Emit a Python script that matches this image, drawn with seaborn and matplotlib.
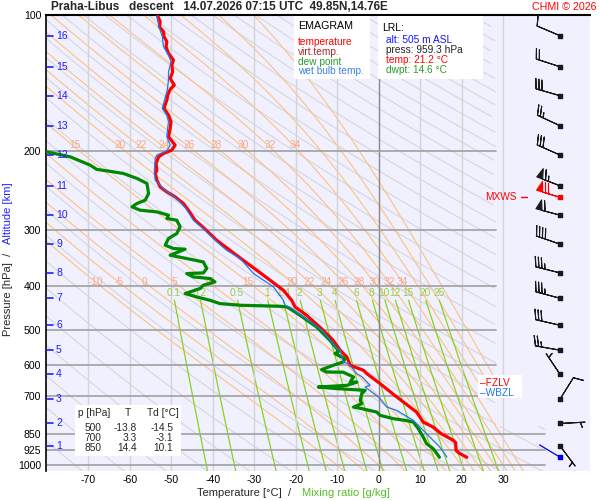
import numpy as np
import pandas as pd
import seaborn as sns
import matplotlib.pyplot as plt
import matplotlib.transforms as mtransforms
from matplotlib.patches import Rectangle

# ---- sounding (pressure hPa / temperature degC) ----
t_pres = [100.5, 103.5, 106.2, 108.9, 111.7, 114.6, 117.6, 121.7, 125.9, 129.1,
          133.7, 138.3, 143.1, 146.3, 150.6, 154.5, 161.2, 166.8, 172.6, 178.5,
          186.4, 194.5, 199.5, 203.0, 206.5, 213.6, 221.0, 224.8, 232.6, 240.8,
          247.0, 253.4, 262.1, 271.3, 285.5, 296.4, 316.2, 332.9, 350.4, 368.8,
          388.1, 408.5, 429.9, 444.9, 464.2, 501.2, 527.6, 555.3, 574.6, 599.5,
          615.1, 625.6, 658.2, 698.8, 761.4, 801.3, 822.1, 850.0, 880.0, 890.0,
          926.0, 940.0, 959.3]
t_temp = [-53.3, -52.7, -52.9, -51.9, -51.8, -51.1, -51.3, -50.7, -49.5, -49.9,
          -49.7, -50.3, -49.3, -50.3, -50.9, -51.1, -51.8, -50.7, -50.1, -50.3,
          -50.7, -49.1, -49.9, -51.9, -53.1, -53.7, -53.5, -53.9, -53.5, -52.7,
          -51.1, -49.1, -47.1, -45.9, -44.3, -42.3, -39.1, -35.9, -32.7, -29.4,
          -26.2, -23.0, -21.0, -20.2, -17.4, -13.4, -11.0, -9.3, -7.7, -6.9,
          -3.7, -2.9, 0.3, 3.8, 9.1, 10.7, 13.1, 15.0, 18.0, 18.5,
          18.6, 19.4, 21.2]

td_pres = [201.3, 206.5, 215.4, 220.2, 221.8, 224.8, 230.6, 236.6, 249.0, 257.7,
           262.1, 266.7, 271.3, 273.6, 278.3, 283.0, 285.5, 295.4, 305.6, 313.5,
           324.4, 330.0, 331.1, 341.5, 347.3, 353.4, 365.5, 373.8, 375.0, 381.6,
           384.7, 391.4, 398.1, 404.9, 415.4, 422.7, 429.9, 437.3, 441.0, 443.3,
           444.9, 447.9, 464.2, 492.8, 527.6, 550.6, 560.1, 564.8, 579.4, 589.4,
           599.5, 612.8, 620.4, 621.0, 636.5, 653.0, 653.5, 664.1, 669.9, 675.4,
           681.3, 692.9, 717.1, 729.3, 742.0, 748.2, 761.4, 774.3, 787.5, 794.3,
           801.3, 828.7, 865.1, 894.7, 918.0, 941.8, 959.3]
td_temp = [-80.0, -74.4, -69.6, -68.0, -65.6, -61.6, -58.3, -55.9, -55.5, -56.3,
           -58.3, -59.5, -57.5, -53.5, -50.7, -51.1, -48.7, -47.9, -48.7, -50.7,
           -51.5, -49.5, -46.7, -50.3, -46.3, -42.3, -41.5, -42.3, -46.3, -44.7,
           -40.7, -39.5, -42.3, -43.1, -46.7, -43.9, -40.7, -38.3, -33.4, -23.8,
           -22.2, -21.6, -19.0, -15.0, -11.8, -10.1, -9.8, -10.6, -8.1, -8.6,
           -11.0, -13.8, -12.6, -8.6, -6.1, -6.9, -5.3, -7.7, -14.6, -10.1,
           -3.3, -4.1, -4.5, -4.1, -6.1, -4.1, -0.5, 0.3, 3.5, 6.3,
           8.3, 9.5, 10.7, 11.5, 13.1, 14.0, 14.6]

tw_pres = [100.9, 106.2, 111.7, 117.6, 122.7, 127.0, 133.7, 139.5, 146.8, 161.2,
           166.8, 172.6, 178.5, 186.4, 194.5, 200.3, 204.6, 208.0, 221.0, 232.6,
           245.0, 257.7, 268.9, 285.5, 298.0, 318.5, 332.9, 347.3, 375.0, 401.5,
           429.9, 440.9, 446.6, 501.2, 550.6, 555.3, 589.4, 594.3, 625.8, 635.4,
           664.1, 669.9, 705.0, 742.0, 754.8, 794.3, 822.1, 865.1, 910.6, 958.5]
tw_temp = [-53.5, -53.0, -52.2, -51.9, -50.7, -50.1, -50.7, -50.7, -51.0, -52.2,
           -51.1, -50.7, -50.9, -51.1, -50.3, -51.1, -53.5, -53.9, -54.1, -53.9,
           -51.5, -48.3, -46.5, -44.7, -42.3, -39.1, -36.7, -33.4, -30.2, -25.4,
           -23.0, -22.6, -21.2, -13.7, -10.1, -9.3, -8.6, -7.3, -5.3, -4.1,
           -2.1, -3.3, -0.1, 1.9, 4.3, 8.3, 9.9, 12.3, 14.7, 16.4]

# ---- wind (km levels 16..1) ----
alt_km = [16, 15, 14, 13, 12, 11, 10, 9, 8, 7, 6, 5, 4, 3, 2, 1]
alt_pres = [111.2, 130.3, 151.1, 176.2, 204.7, 239.5, 278.3, 322.7, 373.8, 425.6,
            488.6, 555.0, 628.0, 712.0, 807.0, 906.0]
wind_dir = [293, 288, 286, 295, 294, 291, 285, 289, 284, 285, 283, 280, 326, 32, 87, 143]
wind_spd = [10, 20, 30, 25, 30, 65, 60, 40, 35, 35, 30, 25, 5, 10, 5, 5]
maxw_pres, maxw_dir, maxw_spd = 253.8, 287, 70
sfc_pres, sfc_dir = 959.3, 301

fzlv_pres, wbzl_pres = 657, 692

table_p = [500, 700, 850]
table_t = [-13.8, 3.3, 14.4]
table_td = [-14.5, -3.1, 10.1]

p_ticks = [100, 200, 300, 400, 500, 600, 700, 850, 925, 1000]
t_ticks = [-70, -60, -50, -40, -30, -20, -10, 0, 10, 20, 30]
theta_w = [-10, -5, 0, 5, 10, 15, 20, 22, 24, 26, 28, 30, 32, 34, 36, 38, 40]
theta_w_upper_only = [36, 38, 40]
theta_w_lab400 = [-10, -5, 0, 5, 10, 15, 20, 22, 24, 26, 28, 30, 32, 34]
theta_w_lab200 = [15, 20, 22, 24, 26, 28, 30, 32, 34]
mix_ratio = [0.1, 0.2, 0.5, 1, 1.4, 2, 3, 4, 6, 8, 10, 12, 15, 20, 25]
mix_lab = ['0.1', '0.2', '0.5', '1', '1.4', '2', '3', '4', '6', '8', '10', '12', '15', '20', '25']


def pseudo_adiabats(tw_c, pres):
    Rd, cp, Lv, eps = 287.04, 1005.7, 2.501e6, 0.622

    def slope(T, p):
        es = 6.112 * np.exp(17.67 * (T - 273.15) / (T - 29.65))
        rs = eps * es / (p - es)
        return (Rd * T + Lv * rs) / p / (cp + Lv * Lv * rs * eps / (Rd * T * T))

    out = np.zeros((len(pres), len(tw_c)))
    i0 = int(np.argmin(np.abs(pres - 1000)))
    out[i0] = np.array(tw_c, float) + 273.15
    for direction in (-1, 1):
        T = np.array(tw_c, float) + 273.15
        idx = i0
        while 0 <= idx + direction < len(pres):
            p0, p1 = pres[idx], pres[idx + direction]
            h = p1 - p0
            k1 = slope(T, p0)
            k2 = slope(T + h * k1 / 2, p0 + h / 2)
            k3 = slope(T + h * k2 / 2, p0 + h / 2)
            k4 = slope(T + h * k3, p1)
            T = T + h * (k1 + 2 * k2 + 2 * k3 + k4) / 6
            idx += direction
            out[idx] = T
    return out - 273.15


def clip_right(p, t):
    t = np.array(t, float)
    lim = np.where(p < 820, 28.2, 40.0)
    t[t > lim] = np.nan
    return t


sns.set_theme(style='white')
plt.rcParams['font.family'] = ['Liberation Sans', 'DejaVu Sans']

fig = plt.figure(figsize=(6, 5), dpi=100)
W, H = 600, 500


def fx(px):
    return px / W


def fy(py):
    return 1 - py / H


ax = fig.add_axes([fx(45.7), fy(470.8), (590 - 45.7) / W, (470.8 - 15) / H])
ax.set_facecolor('#f0f0ff')
ax.set_yscale('log')
ax.set_xlim(-80.3, 50.9)
ax.set_ylim(1028, 100)

pgrid = np.arange(100, 1042, 2.0)

# dry adiabats
for theta in range(190, 650, 10):
    t = theta * (pgrid / 1000.0) ** 0.2857 - 273.15
    ax.plot(clip_right(pgrid, t), pgrid, color='#d6d6da', lw=0.8, zorder=1)

# pseudo adiabats
moist = pseudo_adiabats(theta_w, pgrid)
for j, tw in enumerate(theta_w):
    t = clip_right(pgrid, moist[:, j])
    if tw in theta_w_upper_only:
        t[pgrid > 700] = np.nan
    ax.plot(t, pgrid, color='#ffc27e', lw=0.8, zorder=1.5)
for j, tw in enumerate(theta_w):
    if tw in theta_w_lab400:
        tx = np.interp(392, pgrid, moist[:, j])
        ax.text(tx, 392, str(tw), color='#f7a888', fontsize=7.3, ha='center', va='center', zorder=2)
    if tw in theta_w_lab200:
        tx = np.interp(196.5, pgrid, moist[:, j])
        ax.text(tx, 194, str(tw), color='#f7a888', fontsize=7.3, ha='center', va='center', zorder=2)

# mixing ratio lines
pmix = np.arange(430, 1042, 2.0)
for w, lab in zip(mix_ratio, mix_lab):
    lg = np.log(pmix * w / (622.0 + w) / 6.112)
    t = 243.5 * lg / (17.67 - lg)
    ax.plot(clip_right(pmix, t), pmix, color='#8ad21e', lw=0.9, zorder=1.6)
    lg1 = np.log(425 * w / (622.0 + w) / 6.112)
    ax.text(243.5 * lg1 / (17.67 - lg1), 414, lab, color='#9acd45', fontsize=7.3,
            ha='center', va='center', zorder=2)

# temperature / pressure grid
for t in t_ticks:
    ax.axvline(t, color='#888888' if t == 0 else '#d4d4d4', lw=1.0, zorder=1.8)
for p in p_ticks[1:]:
    ax.plot([-80.3, 40 if p >= 850 else 28.2], [p, p], color='#a0a0a0', lw=1.2, zorder=1.9)

# profiles
df_t = pd.DataFrame({'T': t_temp, 'p': t_pres})
df_td = pd.DataFrame({'T': td_temp, 'p': td_pres})
df_tw = pd.DataFrame({'T': tw_temp, 'p': tw_pres})
sns.lineplot(data=df_td, x='T', y='p', sort=False, estimator=None, color='#008800', lw=2.3, ax=ax, zorder=5)
sns.lineplot(data=df_tw, x='T', y='p', sort=False, estimator=None, color='#2277ee', lw=0.9, ax=ax, zorder=6)
sns.lineplot(data=df_t, x='T', y='p', sort=False, estimator=None, color='#ff0000', lw=2.3, ax=ax, zorder=4)

# axes styling
for s in ['right', 'bottom']:
    ax.spines[s].set_visible(False)
ax.spines['left'].set_color('black')
ax.spines['left'].set_linewidth(1.2)
ax.spines['top'].set_color('black')
ax.spines['top'].set_linewidth(1.5)
ax.set_xticks(t_ticks)
ax.set_xticklabels([str(t) for t in t_ticks])
ax.set_yticks(p_ticks)
ax.set_yticklabels([str(p) for p in p_ticks])
ax.yaxis.set_minor_locator(plt.NullLocator())
ax.tick_params(axis='both', length=0, labelsize=7.6, colors='black')
ax.tick_params(axis='x', pad=3)
ax.tick_params(axis='y', pad=3.2)
ax.set_xlabel('')
ax.set_ylabel('')

# altitude marks
trans = mtransforms.blended_transform_factory(ax.transAxes, ax.transData)
for k, p in zip(alt_km, alt_pres):
    ax.plot([0.002, 0.0125], [p, p], color='#2020ff', lw=1.2, transform=trans, zorder=7)
    ax.text(0.019, p, str(k), color='#2020ff', fontsize=7.5, va='center', transform=trans, zorder=7)

# wind barbs
xb = 43.7
wd = np.deg2rad(wind_dir)
spd = np.array(wind_spd, float)
ax.barbs(np.full(len(spd), xb), alt_pres, -spd * np.sin(wd), -spd * np.cos(wd),
         length=6, linewidth=0.8, barbcolor='k', flagcolor='k', zorder=8,
         sizes=dict(emptybarb=0.0), clip_on=False)
ax.scatter(np.full(len(spd), xb), alt_pres, marker='s', s=9, color='k', zorder=9, clip_on=False)
mw = np.deg2rad(maxw_dir)
ax.barbs([xb], [maxw_pres], [-maxw_spd * np.sin(mw)], [-maxw_spd * np.cos(mw)],
         length=6, linewidth=0.8, barbcolor='red', flagcolor='red', zorder=8)
ax.scatter([xb], [maxw_pres], marker='s', s=9, color='red', zorder=9)
sd = np.deg2rad(sfc_dir)
ax.annotate('', xy=(xb, sfc_pres), xytext=(24 * np.sin(sd), 24 * np.cos(sd)),
            textcoords='offset pixels',
            arrowprops=dict(arrowstyle='-', color='#0000dd', lw=0.9, shrinkA=0, shrinkB=0))
ax.scatter([xb], [sfc_pres], marker='s', s=9, color='#0000dd', zorder=9)

ax.text(33.3, maxw_pres, 'MXWS', color='red', fontsize=7.3, ha='right', va='center', zorder=8)
ax.plot([34.2, 35.8], [maxw_pres, maxw_pres], color='red', lw=1.0, zorder=8)

ax.add_patch(Rectangle((23.8, 631), 10.6, 79, facecolor='white', edgecolor='none', zorder=7))
ax.text(24.3, fzlv_pres, '–FZLV', color='red', fontsize=7.3, va='center', zorder=8)
ax.text(24.3, wbzl_pres, '–WBZL', color='#2277ee', fontsize=7.3, va='center', zorder=8)

# boxes
for x0, y0, x1, y1 in [(294, 15.8, 370, 79), (378.3, 15.8, 483, 79), (75, 405, 181, 456)]:
    fig.add_artist(Rectangle((fx(x0), fy(y1)), (x1 - x0) / W, (y1 - y0) / H,
                             transform=fig.transFigure, facecolor='white', edgecolor='none', zorder=2))

fig.text(fx(298), fy(26), 'EMAGRAM', fontsize=7.7, color='black', va='center')
legend_rows = [('temperature', '#ff0000'), ('virt.temp.', '#a52a2a'),
               ('dew point', '#2a9d2a'), ('wet bulb temp.', '#3b82e6')]
for i, (lab, col) in enumerate(legend_rows):
    fig.text(fx(298), fy(42 + 9.8 * i), lab, fontsize=7.3, color=col, va='center')

fig.text(fx(382), fy(28), 'LRL:', fontsize=7.5, color='black', va='center')
lrl_rows = [('alt: 505 m ASL', '#1414ff'), ('press: 959.3 hPa', '#222222'),
            ('temp: 21.2 °C', '#ff0000'), ('dwpt: 14.6 °C', '#2a9d2a')]
for i, (lab, col) in enumerate(lrl_rows):
    fig.text(fx(386), fy(40 + 10 * i), lab, fontsize=7.3, color=col, va='center')

fig.text(fx(78.3), fy(413), 'p [hPa]', fontsize=7.3, va='center')
fig.text(fx(127.7), fy(413), 'T', fontsize=7.3, va='center', ha='center')
fig.text(fx(146.7), fy(413), 'Td [°C]', fontsize=7.3, va='center')
for i, (p, t, td) in enumerate(zip(table_p, table_t, table_td)):
    yy = fy(428.3 + 10 * i)
    fig.text(fx(101.7), yy, str(p), fontsize=7.3, ha='right', va='center')
    fig.text(fx(136.7), yy, f'{t:.1f}', fontsize=7.3, ha='right', va='center')
    fig.text(fx(173.3), yy, f'{td:.1f}', fontsize=7.3, ha='right', va='center')

fig.text(fx(50.7), fy(7), 'Praha-Libus   descent   14.07.2026 07:15 UTC  49.85N,14.76E',
         fontsize=8.5, fontweight='bold', va='center')
fig.text(fx(596), fy(7), 'CHMI © 2026', fontsize=7.7, color='red', ha='right', va='center')

fig.text(fx(8), fy(336), 'Pressure [hPa]  /', fontsize=8, rotation=90, ha='center', va='bottom')
fig.text(fx(8), fy(244), 'Altitude [km]', fontsize=8, rotation=90, ha='center', va='bottom', color='#2222ff')
fig.text(fx(197), fy(493), 'Temperature [°C]  /', fontsize=8, va='center')
fig.text(fx(302), fy(493), 'Mixing ratio [g/kg]', fontsize=8, va='center', color='#55c02a')

fig.savefig('out.png', dpi=100, facecolor='white')
